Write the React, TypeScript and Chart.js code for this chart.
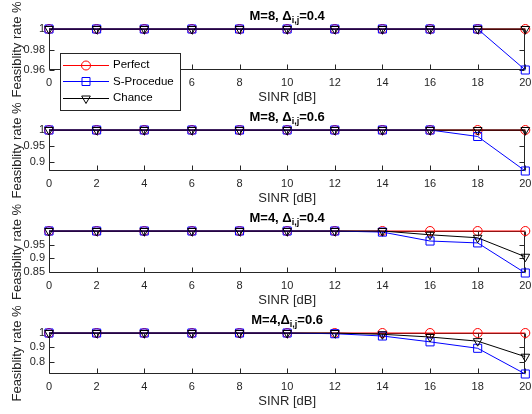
import React, { useEffect, useRef } from 'react';
import { Chart, registerables } from 'chart.js';

Chart.register(...registerables);

// ---------- data ----------
const sinr = [0, 2, 4, 6, 8, 10, 12, 14, 16, 18, 20];
const xTicks = [0, 2, 4, 6, 8, 10, 12, 14, 16, 18, 20];
const seriesNames = ['Perfect', 'S-Procedue', 'Chance'];
const xLabel = 'SINR [dB]';
const yLabel = 'Feasiblity rate %';

// M=8, Δ=0.4
const perfect1 = [1, 1, 1, 1, 1, 1, 1, 1, 1, 1, 1];
const sproc1 = [1, 1, 1, 1, 1, 1, 1, 1, 1, 1, 0.96];
const chance1 = [1, 1, 1, 1, 1, 1, 1, 1, 1, 1, 1];
const yTicks1 = [0.96, 0.98, 1];
const yRange1 = [0.96, 1];
const title1 = ['M=8, Δ', 'i,j', '=0.4'];

// M=8, Δ=0.6
const perfect2 = [1, 1, 1, 1, 1, 1, 1, 1, 1, 1, 1];
const sproc2 = [1, 1, 1, 1, 1, 1, 1, 1, 1, 0.98, 0.873];
const chance2 = [1, 1, 1, 1, 1, 1, 1, 1, 1, 1, 1];
const yTicks2 = [0.9, 0.95, 1];
const yRange2 = [0.873, 1];
const title2 = ['M=8, Δ', 'i,j', '=0.6'];

// M=4, Δ=0.4
const perfect3 = [1, 1, 1, 1, 1, 1, 1, 1, 1, 1, 1];
const sproc3 = [1, 1, 1, 1, 1, 1, 1, 0.996, 0.963, 0.956, 0.845];
const chance3 = [1, 1, 1, 1, 1, 1, 1, 1, 0.986, 0.975, 0.905];
const yTicks3 = [0.85, 0.9, 0.95];
const yRange3 = [0.845, 1];
const title3 = ['M=4, Δ', 'i,j', '=0.4'];

// M=4, Δ=0.6
const perfect4 = [1, 1, 1, 1, 1, 1, 1, 1, 1, 1, 1];
const sproc4 = [1, 1, 1, 1, 1, 1, 0.995, 0.979, 0.938, 0.893, 0.713];
const chance4 = [1, 1, 1, 1, 1, 1, 1, 0.991, 0.972, 0.943, 0.834];
const yTicks4 = [0.8, 0.9, 1];
const yRange4 = [0.713, 1];
const title4 = ['M=4,Δ', 'i,j', '=0.6'];

const panels = [
  { perfect: perfect1, sproc: sproc1, chance: chance1, yTicks: yTicks1, yRange: yRange1, title: title1 },
  { perfect: perfect2, sproc: sproc2, chance: chance2, yTicks: yTicks2, yRange: yRange2, title: title2 },
  { perfect: perfect3, sproc: sproc3, chance: chance3, yTicks: yTicks3, yRange: yRange3, title: title3 },
  { perfect: perfect4, sproc: sproc4, chance: chance4, yTicks: yTicks4, yRange: yRange4, title: title4 },
];

// ---------- layout / style ----------
const W = 532;
const H = 414;
const PLOT_L = 49;
const PLOT_R = 527;
const TOPS = [29, 130, 231, 333];
const BOTTOMS = [70, 171, 273, 374];
const Y_AXIS_W = 40;
const X_AXIS_H = 20;
const FONT = '"Liberation Sans", Arial, Helvetica, sans-serif';
const AXIS_COLOR = '#262626';
const RED = '#ff0000';
const BLUE = '#0000ff';
const BLACK = '#000000';

function drawMarker(ctx: CanvasRenderingContext2D, kind: string, x: number, y: number, color: string) {
  ctx.save();
  ctx.strokeStyle = color;
  ctx.lineWidth = 1;
  ctx.beginPath();
  if (kind === 'circle') {
    ctx.arc(x, y, 4.5, 0, Math.PI * 2);
  } else if (kind === 'rect') {
    ctx.rect(x - 4, y - 4, 8, 8);
  } else {
    const r = 5;
    ctx.moveTo(x, y + r);
    ctx.lineTo(x - r * Math.sin(Math.PI / 3), y - r / 2);
    ctx.lineTo(x + r * Math.sin(Math.PI / 3), y - r / 2);
    ctx.closePath();
  }
  ctx.stroke();
  ctx.restore();
}

function makeDecor(i: number) {
  return {
    id: 'decor' + i,
    beforeDatasetsDraw(chart: any) {
      const ctx: CanvasRenderingContext2D = chart.ctx;
      const a = chart.chartArea;
      const xs = chart.scales.x;
      const ys = chart.scales.y;
      const l = Math.round(a.left) + 0.5;
      const r = Math.round(a.right) - 0.5;
      const t = Math.round(a.top) + 0.5;
      const b = Math.round(a.bottom) - 0.5;
      ctx.save();
      ctx.strokeStyle = AXIS_COLOR;
      ctx.lineWidth = 1;
      ctx.beginPath();
      ctx.rect(l, t, r - l, b - t);
      xTicks.forEach((v) => {
        const px = Math.round(xs.getPixelForValue(v)) + 0.5;
        ctx.moveTo(px, b);
        ctx.lineTo(px, b - 5);
        ctx.moveTo(px, t);
        ctx.lineTo(px, t + 5);
      });
      panels[i].yTicks.forEach((v) => {
        const py = Math.round(ys.getPixelForValue(v)) + 0.5;
        ctx.moveTo(l, py);
        ctx.lineTo(l + 5, py);
        ctx.moveTo(r, py);
        ctx.lineTo(r - 5, py);
      });
      ctx.stroke();
      ctx.restore();
    },
    afterDraw(chart: any) {
      const ctx: CanvasRenderingContext2D = chart.ctx;
      const a = chart.chartArea;
      const cx = (a.left + a.right) / 2;
      ctx.save();
      // title
      const parts = panels[i].title;
      const big = 'bold 13px ' + FONT;
      const small = 'bold 9px ' + FONT;
      ctx.font = big;
      const w0 = ctx.measureText(parts[0]).width;
      const w2 = ctx.measureText(parts[2]).width;
      ctx.font = small;
      const w1 = ctx.measureText(parts[1]).width;
      let x = cx - (w0 + w1 + w2) / 2;
      const base = a.top - 9.5;
      ctx.fillStyle = '#000';
      ctx.textAlign = 'left';
      ctx.textBaseline = 'alphabetic';
      ctx.font = big;
      ctx.fillText(parts[0], x, base);
      ctx.font = small;
      ctx.fillText(parts[1], x + w0, base + 3.5);
      ctx.font = big;
      ctx.fillText(parts[2], x + w0 + w1, base);
      // x label
      ctx.fillStyle = AXIS_COLOR;
      ctx.font = '13px ' + FONT;
      ctx.textAlign = 'center';
      ctx.fillText(xLabel, cx, a.bottom + 31);
      // y label
      ctx.translate(20.5, (a.top + a.bottom) / 2);
      ctx.rotate(-Math.PI / 2);
      ctx.fillText(yLabel, 0, 0);
      ctx.restore();

      if (i === 0) {
        // legend
        ctx.save();
        ctx.fillStyle = '#ffffff';
        ctx.fillRect(60.5, 53.5, 120, 57);
        ctx.strokeStyle = AXIS_COLOR;
        ctx.lineWidth = 1;
        ctx.strokeRect(60.5, 53.5, 120, 57);
        const rows = [64.5, 81, 97.5];
        const colors = [RED, BLUE, BLACK];
        const kinds = ['circle', 'rect', 'triangle'];
        rows.forEach((ry, k) => {
          ctx.strokeStyle = colors[k];
          ctx.beginPath();
          ctx.moveTo(63, Math.round(ry) + 0.5);
          ctx.lineTo(109, Math.round(ry) + 0.5);
          ctx.stroke();
          drawMarker(ctx, kinds[k], 86, Math.round(ry) + 0.5, colors[k]);
          ctx.fillStyle = '#000';
          ctx.font = '11.5px ' + FONT;
          ctx.textAlign = 'left';
          ctx.textBaseline = 'middle';
          ctx.fillText(seriesNames[k], 113, ry + 0.5);
        });
        ctx.restore();
      }
    },
  };
}

function buildConfig(i: number): any {
  const p = panels[i];
  const pts = (arr: number[]) => sinr.map((x, k) => ({ x, y: arr[k] }));
  const common = {
    borderWidth: 1,
    pointBorderWidth: 1,
    pointBackgroundColor: 'rgba(0,0,0,0)',
    backgroundColor: 'rgba(0,0,0,0)',
    fill: false,
    tension: 0,
    clip: false as any,
  };
  return {
    type: 'line',
    data: {
      datasets: [
        { ...common, label: seriesNames[0], data: pts(p.perfect), borderColor: RED, pointBorderColor: RED, pointStyle: 'circle', pointRadius: 4.5, order: 3 },
        { ...common, label: seriesNames[1], data: pts(p.sproc), borderColor: BLUE, pointBorderColor: BLUE, pointStyle: 'rect', pointRadius: 5.7, order: 2 },
        { ...common, label: seriesNames[2], data: pts(p.chance), borderColor: BLACK, pointBorderColor: BLACK, pointStyle: 'triangle', pointRotation: 180, pointRadius: 5, order: 1 },
      ],
    },
    options: {
      animation: false,
      responsive: false,
      devicePixelRatio: 1,
      events: [],
      layout: {
        padding: {
          left: PLOT_L - Y_AXIS_W,
          right: W - PLOT_R,
          top: TOPS[i],
          bottom: H - BOTTOMS[i] - X_AXIS_H,
        },
      },
      plugins: { legend: { display: false }, tooltip: { enabled: false }, title: { display: false } },
      scales: {
        x: {
          type: 'linear',
          min: 0,
          max: 20,
          grid: { display: false, drawTicks: false },
          border: { display: false },
          ticks: {
            autoSkip: false,
            maxRotation: 0,
            padding: 6,
            color: AXIS_COLOR,
            font: { size: 11, family: FONT },
            callback: (v: number) => String(v),
          },
          afterBuildTicks: (s: any) => {
            s.ticks = xTicks.map((v) => ({ value: v }));
          },
          afterFit: (s: any) => {
            s.height = X_AXIS_H;
            s.paddingLeft = 0;
            s.paddingRight = 0;
          },
        },
        y: {
          type: 'linear',
          min: p.yRange[0],
          max: p.yRange[1],
          grid: { display: false, drawTicks: false },
          border: { display: false },
          ticks: {
            autoSkip: false,
            padding: 4,
            color: AXIS_COLOR,
            font: { size: 11, family: FONT },
            callback: (v: number) => String(Math.round(v * 1000) / 1000),
          },
          afterBuildTicks: (s: any) => {
            s.ticks = p.yTicks.map((v) => ({ value: v }));
          },
          afterFit: (s: any) => {
            s.width = Y_AXIS_W;
            s.paddingTop = 0;
            s.paddingBottom = 0;
          },
        },
      },
    },
    plugins: [makeDecor(i)],
  };
}

export default function App() {
  const r0 = useRef<HTMLCanvasElement>(null);
  const r1 = useRef<HTMLCanvasElement>(null);
  const r2 = useRef<HTMLCanvasElement>(null);
  const r3 = useRef<HTMLCanvasElement>(null);
  useEffect(() => {
    const refs = [r0, r1, r2, r3];
    const charts = refs.map((r, i) => new Chart(r.current as HTMLCanvasElement, buildConfig(i)));
    return () => charts.forEach((c) => c.destroy());
  }, []);
  const cs: React.CSSProperties = { position: 'absolute', left: 0, top: 0, width: W, height: H };
  return (
    <div style={{ position: 'fixed', left: 0, top: 0, width: W, height: H, background: '#ffffff', overflow: 'hidden' }}>
      <canvas ref={r3} width={W} height={H} style={cs} />
      <canvas ref={r2} width={W} height={H} style={cs} />
      <canvas ref={r1} width={W} height={H} style={cs} />
      <canvas ref={r0} width={W} height={H} style={cs} />
    </div>
  );
}
